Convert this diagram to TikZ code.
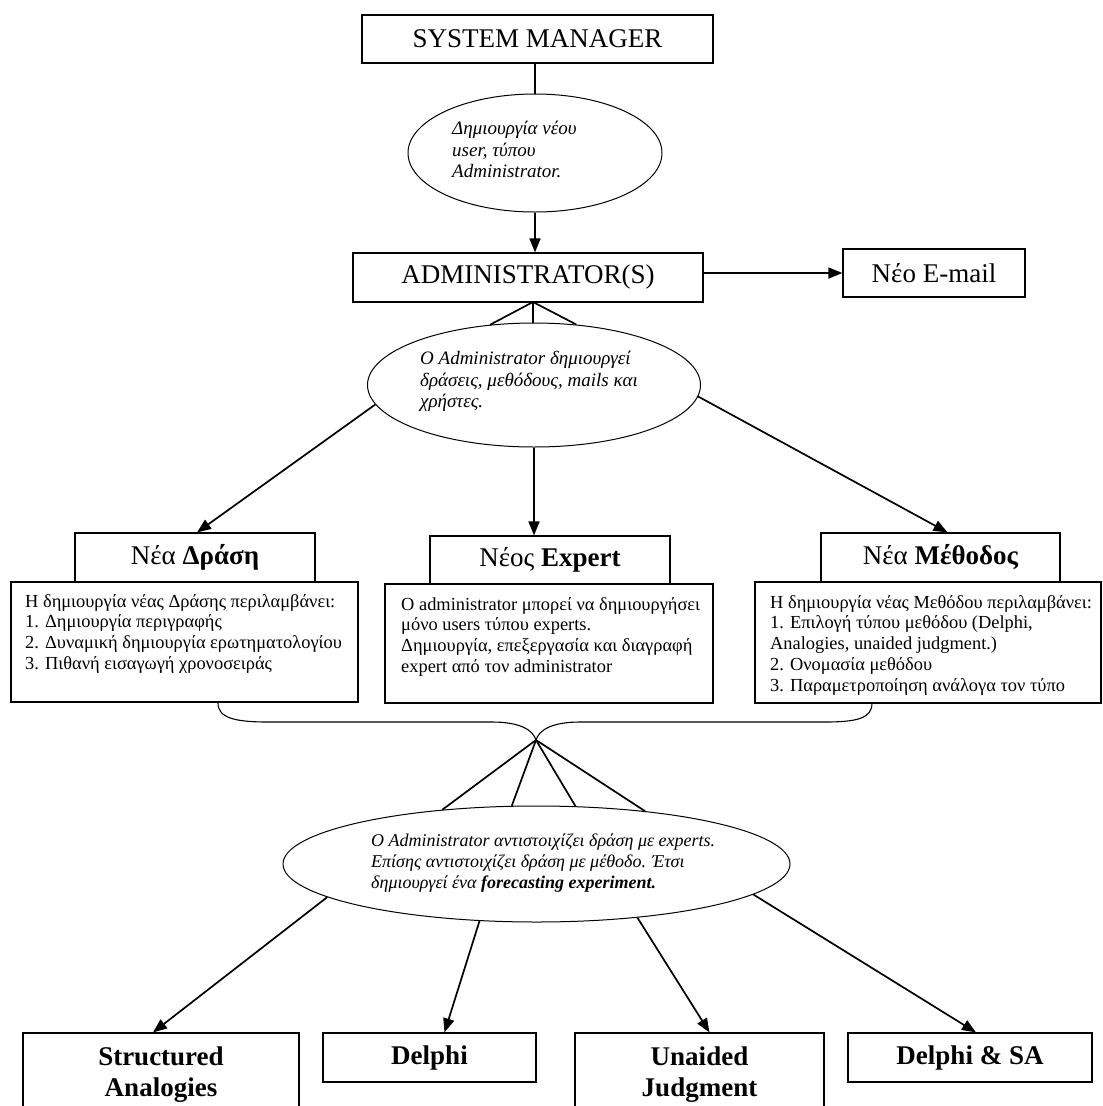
\documentclass[tikz,border=0pt]{standalone}
\usepackage{fontspec}
\setmainfont{Liberation Serif}
\usetikzlibrary{shapes.geometric,arrows.meta}

\begin{document}
\begin{tikzpicture}[x=1pt,y=-1pt,
  box/.style={draw, line width=1.2pt, inner sep=0pt, align=center},
  bubble/.style={draw, ellipse, line width=1pt, fill=white, inner sep=0pt},
  link/.style={line width=1.7pt},
  arr/.style={line width=1.7pt, -{Triangle[length=14pt,width=11pt]}},
  big/.style={font=\fontsize{27}{31}\selectfont},
  bigb/.style={font=\fontsize{27}{31}\selectfont\bfseries},
  note/.style={font=\fontsize{18.4}{20.8}\selectfont, align=left, anchor=north west, inner sep=0pt},
  bubtext/.style={font=\fontsize{19}{21.5}\selectfont\itshape, align=left, anchor=north west, inner sep=0pt},
]
\fill[white] (0,0) rectangle (1103,1106);
\clip (0,0) rectangle (1103,1106);

% top of the hierarchy
\node[box,big,minimum width=351pt,minimum height=48pt] (sm) at (537.5,39) {SYSTEM MANAGER};
\node[bubble,minimum width=254pt,minimum height=118pt] (e1) at (535,153) {};
\node[bubtext] (t1) at (452,121) {Δημιουργία νέου\\user, τύπου\\Administrator.};

\node[box,big,minimum width=350pt,minimum height=49pt] (adm) at (528,277.5) {ADMINISTRATOR(S)};
\node[box,big,minimum width=182pt,minimum height=48pt] (mail) at (934,273) {Νέο E-mail};

\draw[link] (e1.north |- sm.south) -- (e1.north);
\draw[arr] (e1.south) -- (e1.south |- adm.north);
\draw[arr] (adm.east |- mail.west) -- (mail.west);

% administrator actions
\node[bubble,minimum width=333pt,minimum height=124pt] (e2) at (534,385) {};
\node[bubtext] (t2) at (420,351) {Ο Administrator δημιουργεί\\δράσεις, μεθόδους, mails και\\χρήστες.};
\coordinate (atip) at (533,302);
\draw[link] (atip) -- (e2.126);
\draw[link] (atip) -- (atip |- e2.north);
\draw[link] (atip) -- (e2.55);

% three creation branches
\node[box,bigb,minimum width=240pt,minimum height=49pt] (drasaH) at (195,557.5) {\mdseries Νέα \bfseries Δράση};
\node[box,minimum width=347pt,minimum height=120pt] (drasaB) at (184.5,642) {};
\node[note] (drasaT) at (25,594) {Η δημιουργία νέας Δράσης περιλαμβάνει:\\1. Δημιουργία περιγραφής\\2. Δυναμική δημιουργία ερωτηματολογίου\\3. Πιθανή εισαγωγή χρονοσειράς};

\node[box,bigb,minimum width=240pt,minimum height=48pt] (expH) at (550,560) {\mdseries Νέος \bfseries Expert};
\node[box,minimum width=328pt,minimum height=119pt] (expB) at (549,643.5) {};
\node[note] (expT) at (401,597) {Ο administrator μπορεί να δημιουργήσει\\μόνο users τύπου experts.\\Δημιουργία, επεξεργασία και διαγραφή\\expert από τον administrator};

\node[box,bigb,minimum width=239pt,minimum height=49pt] (methH) at (940.5,557.5) {\mdseries Νέα \bfseries Μέθοδος};
\node[box,minimum width=346pt,minimum height=121pt] (methB) at (928,642.5) {};
\node[note] (methT) at (770,595) {Η δημιουργία νέας Μεθόδου περιλαμβάνει:\\1. Επιλογή τύπου μεθόδου (Delphi,\\Analogies, unaided judgment.)\\2. Ονομασία μεθόδου\\3. Παραμετροποίηση ανάλογα τον τύπο};

\draw[arr] (e2.187) -- ([xshift=2pt]drasaH.north);
\draw[arr] (e2.south) -- (e2.south |- expH.north);
\draw[arr] (e2.-4) -- ([xshift=7pt]methH.north);

% brace joining the three branches
\coordinate (bt) at (536,740);
\draw[line width=1.1pt] (218,703) .. controls (218,718) and (235,722) .. (268,722) -- (492,722)
  .. controls (520,722) and (533,730) .. (bt)
  .. controls (539,730) and (552,722) .. (580,722) -- (825,722)
  .. controls (858,722) and (872,718) .. (872,703);

% forecasting experiment
\node[bubble,minimum width=507pt,minimum height=116pt] (e3) at (536.5,864) {};
\node[bubtext,font=\fontsize{18}{21}\selectfont\itshape] (t3) at (371,834) {Ο Administrator αντιστοιχίζει δράση με experts.\\Επίσης αντιστοιχίζει δράση με μέθοδο. Έτσι\\δημιουργεί ένα \bfseries forecasting experiment.};
\draw[link] (bt) -- (e3.150);
\draw[link] (bt) -- (e3.113);
\draw[link] (bt) -- (e3.56);
\draw[link] (bt) -- (e3.26);

% forecasting methods
\node[box,bigb,minimum width=276pt,minimum height=84pt] (sa) at (161,1075) {Structured\\Analogies};
\node[box,bigb,minimum width=213pt,minimum height=49pt] (dl) at (429.5,1057.5) {Delphi};
\node[box,bigb,minimum width=249pt,minimum height=84pt] (uj) at (699.5,1075) {Unaided\\Judgment};
\node[box,bigb,minimum width=244pt,minimum height=49pt] (dsa) at (970,1057.5) {Delphi \& SA};

\draw[arr] (e3.189) -- ([xshift=-8pt]sa.north);
\draw[arr] (e3.-135) -- ([xshift=15pt]dl.north);
\draw[arr] (e3.-28) -- ([xshift=10pt]uj.north);
\draw[arr] (e3.-8) -- ([xshift=6pt]dsa.north);
\end{tikzpicture}
\end{document}
